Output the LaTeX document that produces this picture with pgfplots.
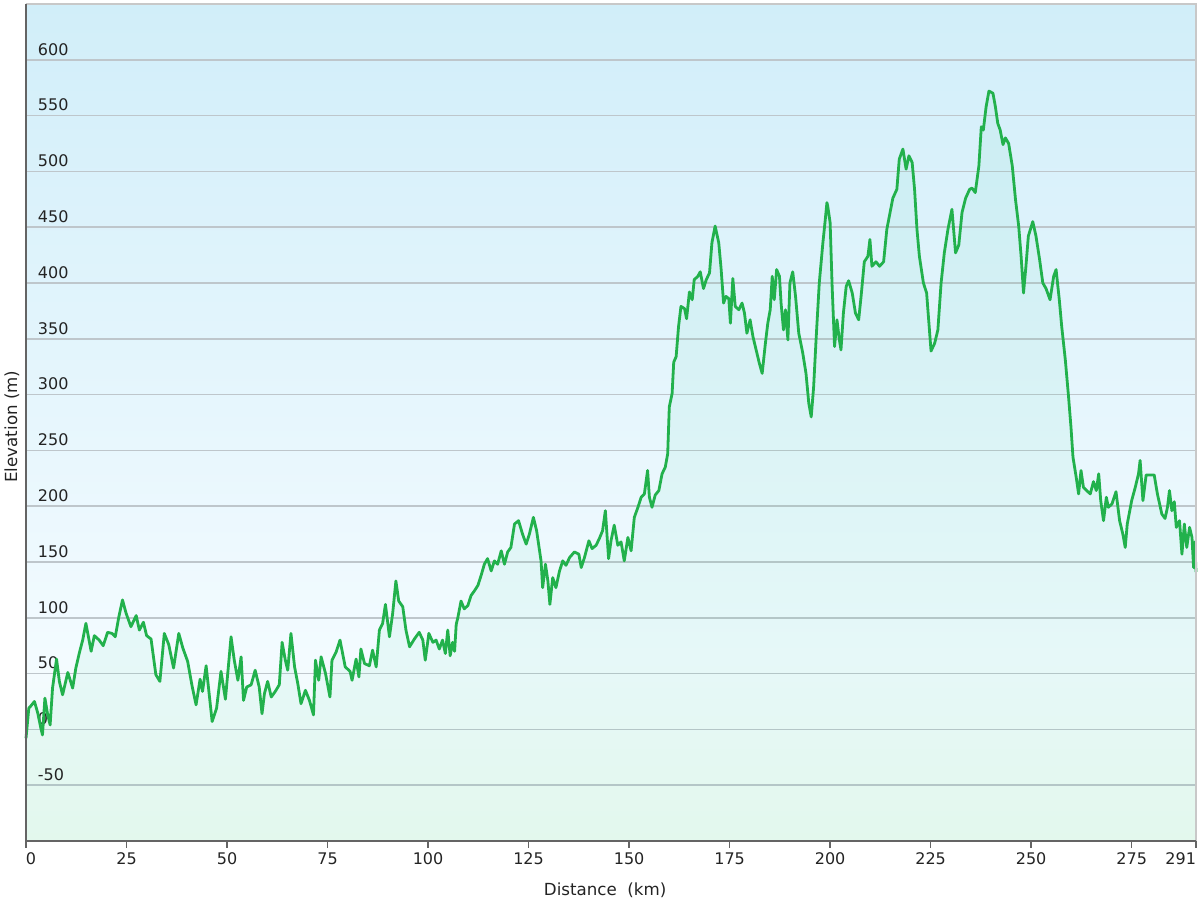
\documentclass[border=0pt]{standalone}
\usepackage{pgfplots}
\pgfplotsset{compat=1.18}
\usepgfplotslibrary{fillbetween}
\usepackage{fontspec}
\setmainfont{DejaVu Sans}
\definecolor{lineg}{RGB}{34,177,76}
\definecolor{fillg}{RGB}{30,200,140}
\definecolor{bgtop}{RGB}{209,238,249}
\definecolor{bgmid}{RGB}{243,251,255}
\definecolor{bgbot}{RGB}{240,252,244}
\definecolor{gridc}{RGB}{190,198,203}
\definecolor{axdark}{RGB}{100,100,100}
\definecolor{axlight}{RGB}{200,200,200}
\definecolor{txt}{RGB}{35,35,35}
\pgfdeclareverticalshading{bgshade}{100bp}{color(0bp)=(bgbot); color(25bp)=(bgbot); color(36bp)=(bgmid); color(75bp)=(bgtop); color(100bp)=(bgtop)}
\begin{document}
\begin{tikzpicture}
\begin{axis}[
  name=ax, scale only axis, width=877.5pt, height=627.75pt,
  xmin=0, xmax=291, ymin=-100, ymax=650,
  clip=false,
  axis line style={draw=none},
  axis background/.style={shading=bgshade},
  xtick={0,25,50,75,100,125,150,175,200,225,250,275,291},
  xticklabels={\makebox[0pt][l]{0},25,50,75,100,125,150,175,200,225,250,275,\makebox[0pt][r]{291}},
  ytick={-50,0,50,100,150,200,250,300,350,400,450,500,550,600},
  xtick pos=left, ytick pos=left,
  tick align=outside,
  major tick length=5.25pt,
  xtick style={draw=axdark, line width=1.2pt},
  ytick style={/pgfplots/major tick length=0pt, draw=none},
  ymajorgrids,
  major grid style={draw=gridc, line width=1.2pt},
  /pgf/number format/assume math mode=true,
  tick label style={font=\fontsize{12}{14}\selectfont, text=txt},
  yticklabel style={anchor=south west, inner sep=0pt, xshift=14pt, yshift=3.2pt},
  xlabel={Distance\ \ (km)},
  ylabel={Elevation (m)},
  label style={font=\fontsize{12.5}{15}\selectfont, text=txt},
  xlabel style={at={(axis description cs:0.495,-0.0585)}, anchor=center},
  ylabel style={at={(axis description cs:-0.012,0.495)}, anchor=center},
]
\addplot[draw=none, name path=B, forget plot] coordinates {(0,-100) (291,-100)};
\addplot[name path=A, draw=lineg, line width=2.1pt, line join=round] coordinates {
(0,-8) (0.7,19) (1.2,21) (2.1,25) (2.9,15) (3.7,1) (4.1,-5) (4.7,28) (5.4,13) (6.0,4) (6.6,37) (7.6,63) (8.3,43) (9.1,31) (10.4,51) (11.6,37) (12.4,55) (13.3,69) (14.1,80) (14.9,95) (16.2,70) (17.0,84) (18.2,80) (19.2,75) (20.3,87) (21.4,86) (22.2,83) (23.1,101) (24.0,116) (24.9,104) (26.1,92) (27.4,102) (28.2,89) (29.2,96) (30.0,84) (31.1,81) (32.3,49) (33.3,43) (34.4,86) (35.5,76) (36.7,55) (38.0,86) (39.0,73) (40.2,61) (41.3,39) (42.3,22) (43.3,45) (43.9,34) (44.8,57) (45.4,37) (46.3,7) (47.4,19) (48.5,52) (49.6,27)
(51.0,83) (51.8,62) (52.7,44) (53.5,65) (54.1,26) (54.9,38) (56.0,40) (57.0,53) (58.0,38) (58.7,14) (59.3,32) (60.1,43) (61.0,29) (62.0,34) (63.0,40) (63.7,78) (64.5,62) (65.1,53) (65.9,86) (66.8,56) (67.6,41) (68.4,23) (69.5,35) (70.5,26) (71.5,13) (72.0,62) (72.8,44) (73.4,65) (74.5,50) (75.6,29) (76.1,62) (77.1,69) (78.1,80) (79.4,56) (80.6,52) (81.1,44) (82.1,63) (82.8,47) (83.3,72) (84.2,59) (85.4,57) (86.2,71) (87.1,56) (87.9,89) (88.7,95) (89.4,112) (90.4,83) (91.2,104) (92.0,133) (92.7,115) (93.7,110) (94.5,89) (95.4,74) (96.6,81) (97.8,87) (98.7,80) (99.3,62) (100.2,86) (101.2,78) (102.0,80) (102.8,72) (103.6,80) (104.3,68) (104.9,89) (105.5,66) (106.1,78) (106.6,70) (107.0,94) (107.4,100)
(108.2,115) (109.0,108) (109.9,111) (110.7,120) (111.5,124) (112.4,129) (113.2,138) (114.0,148) (114.8,153) (115.7,142) (116.5,151) (117.3,148) (118.2,160) (119.0,148) (119.8,159) (120.6,163) (121.5,184) (122.5,187) (123.5,175) (124.4,166) (125.2,175) (126.2,190) (127.0,178) (128.1,151) (128.5,127) (129.2,148) (129.8,133) (130.3,112) (131.0,136) (131.8,127) (132.7,142) (133.5,151) (134.3,147) (135.2,154) (136.4,159) (137.5,157) (138.1,145) (138.9,154) (140.0,169) (140.8,162) (141.8,165) (142.6,171) (143.4,178) (144.1,196) (144.9,153) (145.5,169) (146.3,183) (147.2,165) (148.0,168) (148.8,151) (149.7,172) (150.5,160) (151.3,190)
(152.2,199) (153.0,208) (153.8,211) (154.6,232) (155.05,208) (155.7,199) (156.5,210) (157.4,214) (158.2,229) (159.0,235) (159.6,247) (160.0,289) (160.7,301) (161.1,329) (161.7,334) (162.3,361) (162.9,379) (163.8,377) (164.3,368) (165.0,392) (165.7,385) (166.2,403) (167.1,406) (167.7,410) (168.5,395) (169.2,403) (170.0,409) (170.6,436) (171.4,451) (172.3,436) (172.9,412) (173.5,382) (174.1,388) (174.8,386) (175.2,364) (175.8,404) (176.4,379) (177.3,376) (178.1,382) (178.7,373) (179.3,355) (180.1,367) (180.8,352) (181.6,340) (182.4,328) (183.1,319) (183.9,346) (184.5,364) (185.1,376) (185.6,406) (186.1,385) (186.7,412) (187.4,406) (187.8,382) (188.4,358) (188.9,376) (189.5,349) (190.0,400) (190.7,410) (191.4,388) (192.2,355) (193.2,337) (194.0,319) (194.7,292) (195.3,280) (195.9,307) (196.5,349) (197.3,400) (198.2,436) (198.8,457) (199.2,472)
(199.4,469) (200.0,454) (200.5,397) (201.1,343) (201.7,367) (202.3,349) (202.7,340) (203.3,373) (204.0,397) (204.6,402) (205.5,391) (206.3,373) (207.1,367) (207.7,388) (208.5,419) (209.4,424) (209.9,439) (210.4,415) (211.4,419) (212.3,415) (213.3,419) (214.1,448) (214.9,463) (215.6,476) (216.6,484) (217.2,511) (218.1,520) (218.9,502) (219.6,514) (220.4,508) (221.0,484) (221.6,448) (222.2,424) (223.2,400) (224.0,391) (225.1,339) (226.0,346) (226.8,358) (227.6,400) (228.4,427) (229.3,448) (230.3,466) (231.2,427) (232.0,434) (232.8,463) (233.7,476) (234.7,484) (235.3,485) (236.1,481) (237.0,505) (237.6,540) (238.1,537) (238.8,558) (239.5,572) (240.5,570) (241.1,558) (241.7,543) (242.3,537) (243.0,524) (243.6,530) (244.4,525) (245.3,505) (246.1,475) (246.9,451) (247.5,424)
(248.1,391) (248.7,415) (249.3,442) (250.4,455) (251.2,442) (252.1,421) (252.9,400) (253.7,395) (254.7,385) (255.6,406) (256.2,412) (257.0,385) (257.6,361) (258.5,331) (259.3,298) (259.9,271) (260.4,244) (261.2,226) (261.8,211) (262.4,232) (263.0,217) (263.8,214) (264.7,211) (265.5,222) (266.2,214) (266.8,229) (267.3,205) (268.0,187) (268.7,208) (269.2,199) (270.1,202) (271.1,213) (272.0,187) (272.8,175) (273.4,163) (273.9,184) (275.0,205) (275.9,217) (276.7,229) (277.1,241) (277.8,205) (278.6,228) (279.8,228) (280.6,228) (281.4,211) (282.5,193) (283.3,189) (283.9,199) (284.4,214) (285.0,196) (285.6,204) (286.1,181) (286.9,187) (287.5,157) (288.1,184) (288.7,163) (289.4,181) (290.0,172) (290.4,145) (290.7,168) (291,141)
};
\addplot[fill=fillg, fill opacity=0.06, draw=none, forget plot] fill between[of=A and B];
\draw[axlight, line width=1.5pt] (rel axis cs:0,1) -- (rel axis cs:1,1) -- (rel axis cs:1,0);
\draw[axdark, line width=1.5pt] (rel axis cs:0,1) -- (rel axis cs:0,0) -- (rel axis cs:1,0);
\end{axis}
\pgfresetboundingbox
\path[use as bounding box] ([xshift=-19.5pt,yshift=-44.25pt]ax.south west) rectangle ([xshift=3pt,yshift=3pt]ax.north east);
\end{tikzpicture}
\end{document}
